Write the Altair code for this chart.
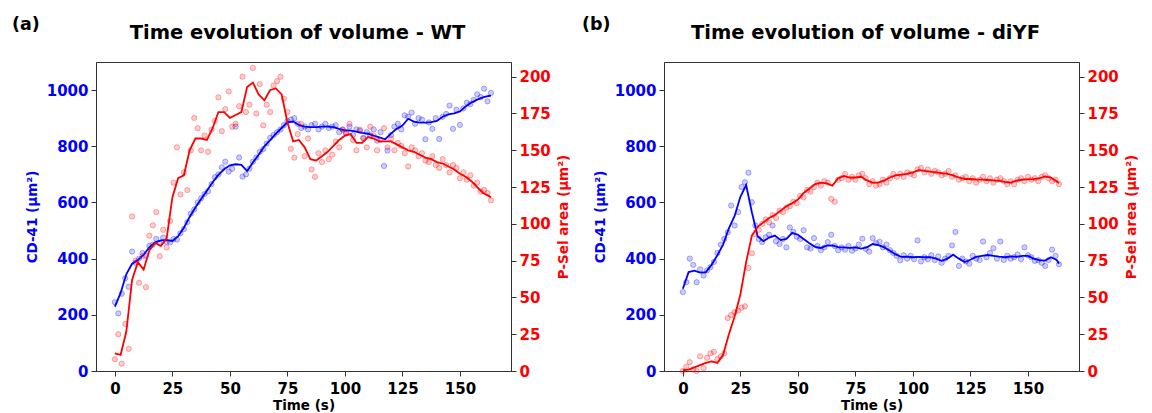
import altair as alt
import pandas as pd

# ---------------- time grids ----------------
LINE_T = [0, 2.5, 5, 7.5, 10, 12.5, 15, 17.5, 20, 22.5,
          25, 27.5, 30, 32.5, 35, 37.5, 40, 42.5, 45, 47.5,
          50, 52.5, 55, 57.5, 60, 62.5, 65, 67.5, 70, 72.5,
          75, 77.5, 80, 82.5, 85, 87.5, 90, 92.5, 95, 97.5,
          100, 102.5, 105, 107.5, 110, 112.5, 115, 117.5, 120, 122.5,
          125, 127.5, 130, 132.5, 135, 137.5, 140, 142.5, 145, 147.5,
          150, 152.5, 155, 157.5, 160, 162.5, 163.5]

PT_T = [0, 1.5, 3, 4.5, 6, 7.5, 9, 10.5, 12, 13.5,
        15, 16.5, 18, 19.5, 21, 22.5, 24, 25.5, 27, 28.5,
        30, 31.5, 33, 34.5, 36, 37.5, 39, 40.5, 42, 43.5,
        45, 46.5, 48, 49.5, 51, 52.5, 54, 55.5, 57, 58.5,
        60, 61.5, 63, 64.5, 66, 67.5, 69, 70.5, 72, 73.5,
        75, 76.5, 78, 79.5, 81, 82.5, 84, 85.5, 87, 88.5,
        90, 91.5, 93, 94.5, 96, 97.5, 99, 100.5, 102, 103.5,
        105, 106.5, 108, 109.5, 111, 112.5, 114, 115.5, 117, 118.5,
        120, 121.5, 123, 124.5, 126, 127.5, 129, 130.5, 132, 133.5,
        135, 136.5, 138, 139.5, 141, 142.5, 144, 145.5, 147, 148.5,
        150, 151.5, 153, 154.5, 156, 157.5, 159, 160.5, 162, 163.5]

# ---------------- panel (a): WT ----------------
WT_CD_LINE = [229, 278, 345, 382, 395, 414, 440, 458, 465, 466,
              463, 480, 510, 548, 582, 612, 642, 672, 698, 718,
              732, 736, 734, 712, 742, 770, 800, 822, 845, 865,
              885, 888, 876, 870, 868, 868, 870, 870, 868, 862,
              857, 856, 852, 848, 845, 838, 832, 825, 845, 862,
              874, 898, 888, 884, 884, 886, 890, 905, 914, 917,
              924, 942, 956, 966, 974, 979, 980]
WT_PS_LINE = [12, 11, 27, 62, 74, 69, 82, 87, 85, 90,
              118, 131, 133, 150, 158, 158, 157, 165, 176, 176,
              172, 174, 176, 193, 196, 188, 184, 191, 192, 188,
              169, 156, 157, 152, 144, 143, 146, 149, 153, 157,
              160, 161, 155, 155, 159, 158, 156, 156, 156, 154,
              152, 150, 149, 147, 145, 144, 142, 141, 139, 137,
              134, 132, 129, 125, 121, 119, 118]
WT_CD_PTS = [245, 205, 275, 330, 300, 425, 385, 400, 420, 410,
             445, 450, 470, 455, 475, 460, 458, 470, 468, 490,
             505, 530, 560, 575, 600, 615, 630, 640, 665, 690,
             700, 725, 745, 710, 720, 870, 760, 692, 700, 720,
             745, 760, 780, 790, 810, 830, 840, 850, 860, 875,
             890, 895, 900, 880, 865, 870, 860, 875, 880, 860,
             870, 880, 865, 870, 875, 850, 860, 845, 870, 840,
             860, 855, 830, 850, 840, 860, 820, 850, 730, 785,
             840, 870, 880, 860, 910, 905, 920, 880, 900, 895,
             825, 885, 862, 900, 826, 905, 915, 945, 862, 930,
             876, 935, 955, 950, 965, 985, 975, 1005, 960, 990]
WT_PS_PTS = [8, 25, 5, 32, 15, 105, 75, 60, 78, 57,
             92, 99, 108, 78, 96, 84, 102, 128, 152, 120,
             135, 123, 150, 172, 165, 150, 160, 149, 164, 170,
             186, 163, 178, 190, 166, 168, 180, 200, 176, 181,
             206, 175, 195, 167, 181, 176, 194, 197, 200, 185,
             176, 151, 145, 161, 168, 146, 158, 137, 132, 148,
             142, 150, 144, 147, 156, 152, 164, 162, 168, 157,
             150, 164, 158, 152, 166, 160, 150, 157, 165, 152,
             158, 150, 155, 153, 148, 139, 152, 150, 146, 148,
             143, 142, 146, 140, 138, 144, 140, 135, 140, 138,
             131, 135, 130, 133, 126, 128, 122, 123, 121, 116]

# ---------------- panel (b): diYF ----------------
DY_CD_LINE = [293, 352, 357, 350, 352, 378, 412, 450, 508, 552,
              620, 662, 565, 480, 462, 475, 482, 466, 470, 492,
              485, 470, 455, 442, 438, 446, 447, 441, 440, 438,
              440, 436, 440, 452, 448, 440, 428, 415, 406, 407,
              405, 406, 405, 405, 400, 392, 400, 414, 400, 388,
              396, 406, 410, 413, 410, 407, 405, 408, 406, 410,
              410, 400, 395, 393, 405, 395, 382]
DY_PS_LINE = [0.5, 1, 2.5, 4, 5.5, 6.5, 5.5, 11, 25, 37,
              52, 74, 92, 98, 101, 104, 106, 109, 112, 114,
              116.5, 121, 124, 127, 128, 127.5, 126, 131, 132.5, 131.5,
              131.5, 132, 129.5, 128, 128, 129.5, 131.5, 133, 133.5, 134,
              135, 136.5, 136, 135.5, 135, 134.5, 134, 133, 131.5, 130.5,
              130.5, 130.2, 130, 129.8, 129.5, 129.2, 128.5, 128, 129.3, 130,
              130.2, 130.4, 131, 132.2, 131.5, 129, 127.7]
DY_CD_PTS = [281, 316, 400, 378, 316, 362, 340, 358, 370, 388,
             420, 450, 470, 494, 589, 518, 566, 655, 672, 706,
             601, 518, 470, 459, 476, 485, 518, 462, 452, 470,
             440, 511, 495, 478, 470, 501, 440, 436, 473, 445,
             430, 440, 459, 485, 445, 430, 440, 432, 445, 428,
             436, 450, 471, 435, 425, 473, 455, 460, 440, 450,
             430, 420, 410, 394, 412, 400, 410, 398, 465, 390,
             405, 398, 412, 395, 408, 385, 400, 410, 447, 495,
             374, 400, 390, 382, 410, 400, 395, 461, 405, 420,
             437, 400, 461, 395, 410, 400, 405, 415, 398, 440,
             412, 405, 392, 395, 385, 374, 395, 432, 410, 380]
DY_PS_PTS = [0, 3, 6, 1, 0, 10, 2, 9, 12, 13,
             8, 10, 12, 36, 38, 40, 41, 43, 44, 70,
             80, 93, 96, 100, 103, 101, 106, 104, 109, 108,
             111, 112, 115, 114, 119, 118, 123, 122, 125, 128,
             126, 129, 128, 117, 115, 130, 131, 134, 130, 132,
             130, 133, 134, 131, 127, 129, 126, 127, 130, 128,
             131, 134, 132, 134, 132, 135, 134, 133, 137, 138,
             135, 137, 134, 136, 135, 133, 134, 136, 132, 133,
             130, 131, 132, 129, 131, 128, 130, 132, 129, 131,
             128, 130, 131, 129, 127, 129, 127, 130, 131, 129,
             132, 130, 131, 129, 132, 133, 131, 129, 130, 127]

X_TICKS = [0, 25, 50, 75, 100, 125, 150]
CD_TICKS = [0, 200, 400, 600, 800, 1000]
PS_TICKS = [0, 25, 50, 75, 100, 125, 150, 175, 200]

for arr in (WT_CD_LINE, WT_PS_LINE, DY_CD_LINE, DY_PS_LINE):
    assert len(arr) == len(LINE_T), len(arr)
for arr in (WT_CD_PTS, WT_PS_PTS, DY_CD_PTS, DY_PS_PTS):
    assert len(arr) == len(PT_T), len(arr)

W, H = 415, 309
FONT = "DejaVu Sans"
BLUE = "#0000ff"
RED = "#ff0000"


def panel(title, tag, tag_dx, cd_line, ps_line, cd_pts, ps_pts):
    line_df = pd.DataFrame({"t": LINE_T, "cd": cd_line, "ps": ps_line})
    pts_df = pd.DataFrame({"t": PT_T, "cd": cd_pts, "ps": ps_pts})

    x = alt.X("t:Q", scale=alt.Scale(domain=[-8.2, 172.2], nice=False, zero=False),
              axis=alt.Axis(values=X_TICKS, title="Time (s)", labelColor="black",
                            titleColor="black", titleFontSize=13.5, labelPadding=5,
                            titlePadding=2))
    ycd = alt.Y("cd:Q", scale=alt.Scale(domain=[0, 1100], nice=False),
                axis=alt.Axis(orient="left", values=CD_TICKS, format="d", title="CD-41 (μm²)",
                              labelColor=BLUE, titleColor=BLUE, titlePadding=7))
    yps = alt.Y("ps:Q", scale=alt.Scale(domain=[0, 210], nice=False),
                axis=alt.Axis(orient="right", values=PS_TICKS, format="d",
                              title="P-Sel area (μm²)", titleAngle=270, titleBaseline="top",
                              labelColor=RED, titleColor=RED, titlePadding=6))

    def pts(col):
        return dict(filled=True, fill=col, stroke=col, size=28, fillOpacity=0.2,
                    strokeOpacity=0.3, strokeWidth=1)

    bp = alt.Chart(pts_df).mark_point(**pts(BLUE)).encode(x=x, y=ycd)
    bl = alt.Chart(line_df).mark_line(color=BLUE, strokeWidth=1.8).encode(x=x, y=ycd)
    rp = alt.Chart(pts_df).mark_point(**pts(RED)).encode(x=x, y=yps)
    rl = alt.Chart(line_df).mark_line(color=RED, strokeWidth=1.8).encode(x=x, y=yps)

    txt = pd.DataFrame({"s": [title], "g": [tag]})
    ttl = alt.Chart(txt).mark_text(font=FONT, fontSize=19.5, fontWeight="bold", color="black",
                                   align="center", baseline="alphabetic").encode(
        text="s:N", x=alt.value(W / 2 - 6), y=alt.value(-23))
    tg = alt.Chart(txt).mark_text(font=FONT, fontSize=17.5, fontWeight="bold", color="black",
                                  align="left", baseline="alphabetic").encode(
        text="g:N", x=alt.value(tag_dx), y=alt.value(-32))

    return alt.layer(alt.layer(bp, bl), alt.layer(rp, rl), ttl, tg).resolve_scale(
        y="independent").properties(width=W, height=H)


pa = panel("Time evolution of volume - WT", "(a)", -84,
           WT_CD_LINE, WT_PS_LINE, WT_CD_PTS, WT_PS_PTS)
pb = panel("Time evolution of volume - diYF", "(b)", -82,
           DY_CD_LINE, DY_PS_LINE, DY_CD_PTS, DY_PS_PTS)

chart = alt.hconcat(pa, pb, spacing=10).properties(
    padding={"left": 3, "top": 7, "right": 0, "bottom": 0}
).configure_view(stroke="#333333", strokeWidth=1).configure_axis(
    labelFont=FONT, labelFontWeight="bold", labelFontSize=15,
    titleFont=FONT, titleFontWeight="bold", titleFontSize=13.5,
    grid=False, tickColor="#333333", domainColor="#333333", tickSize=5,
    labelPadding=3, domainWidth=1, tickWidth=1
)

chart.save("out.html", embed_options={"renderer": "svg", "actions": False})
